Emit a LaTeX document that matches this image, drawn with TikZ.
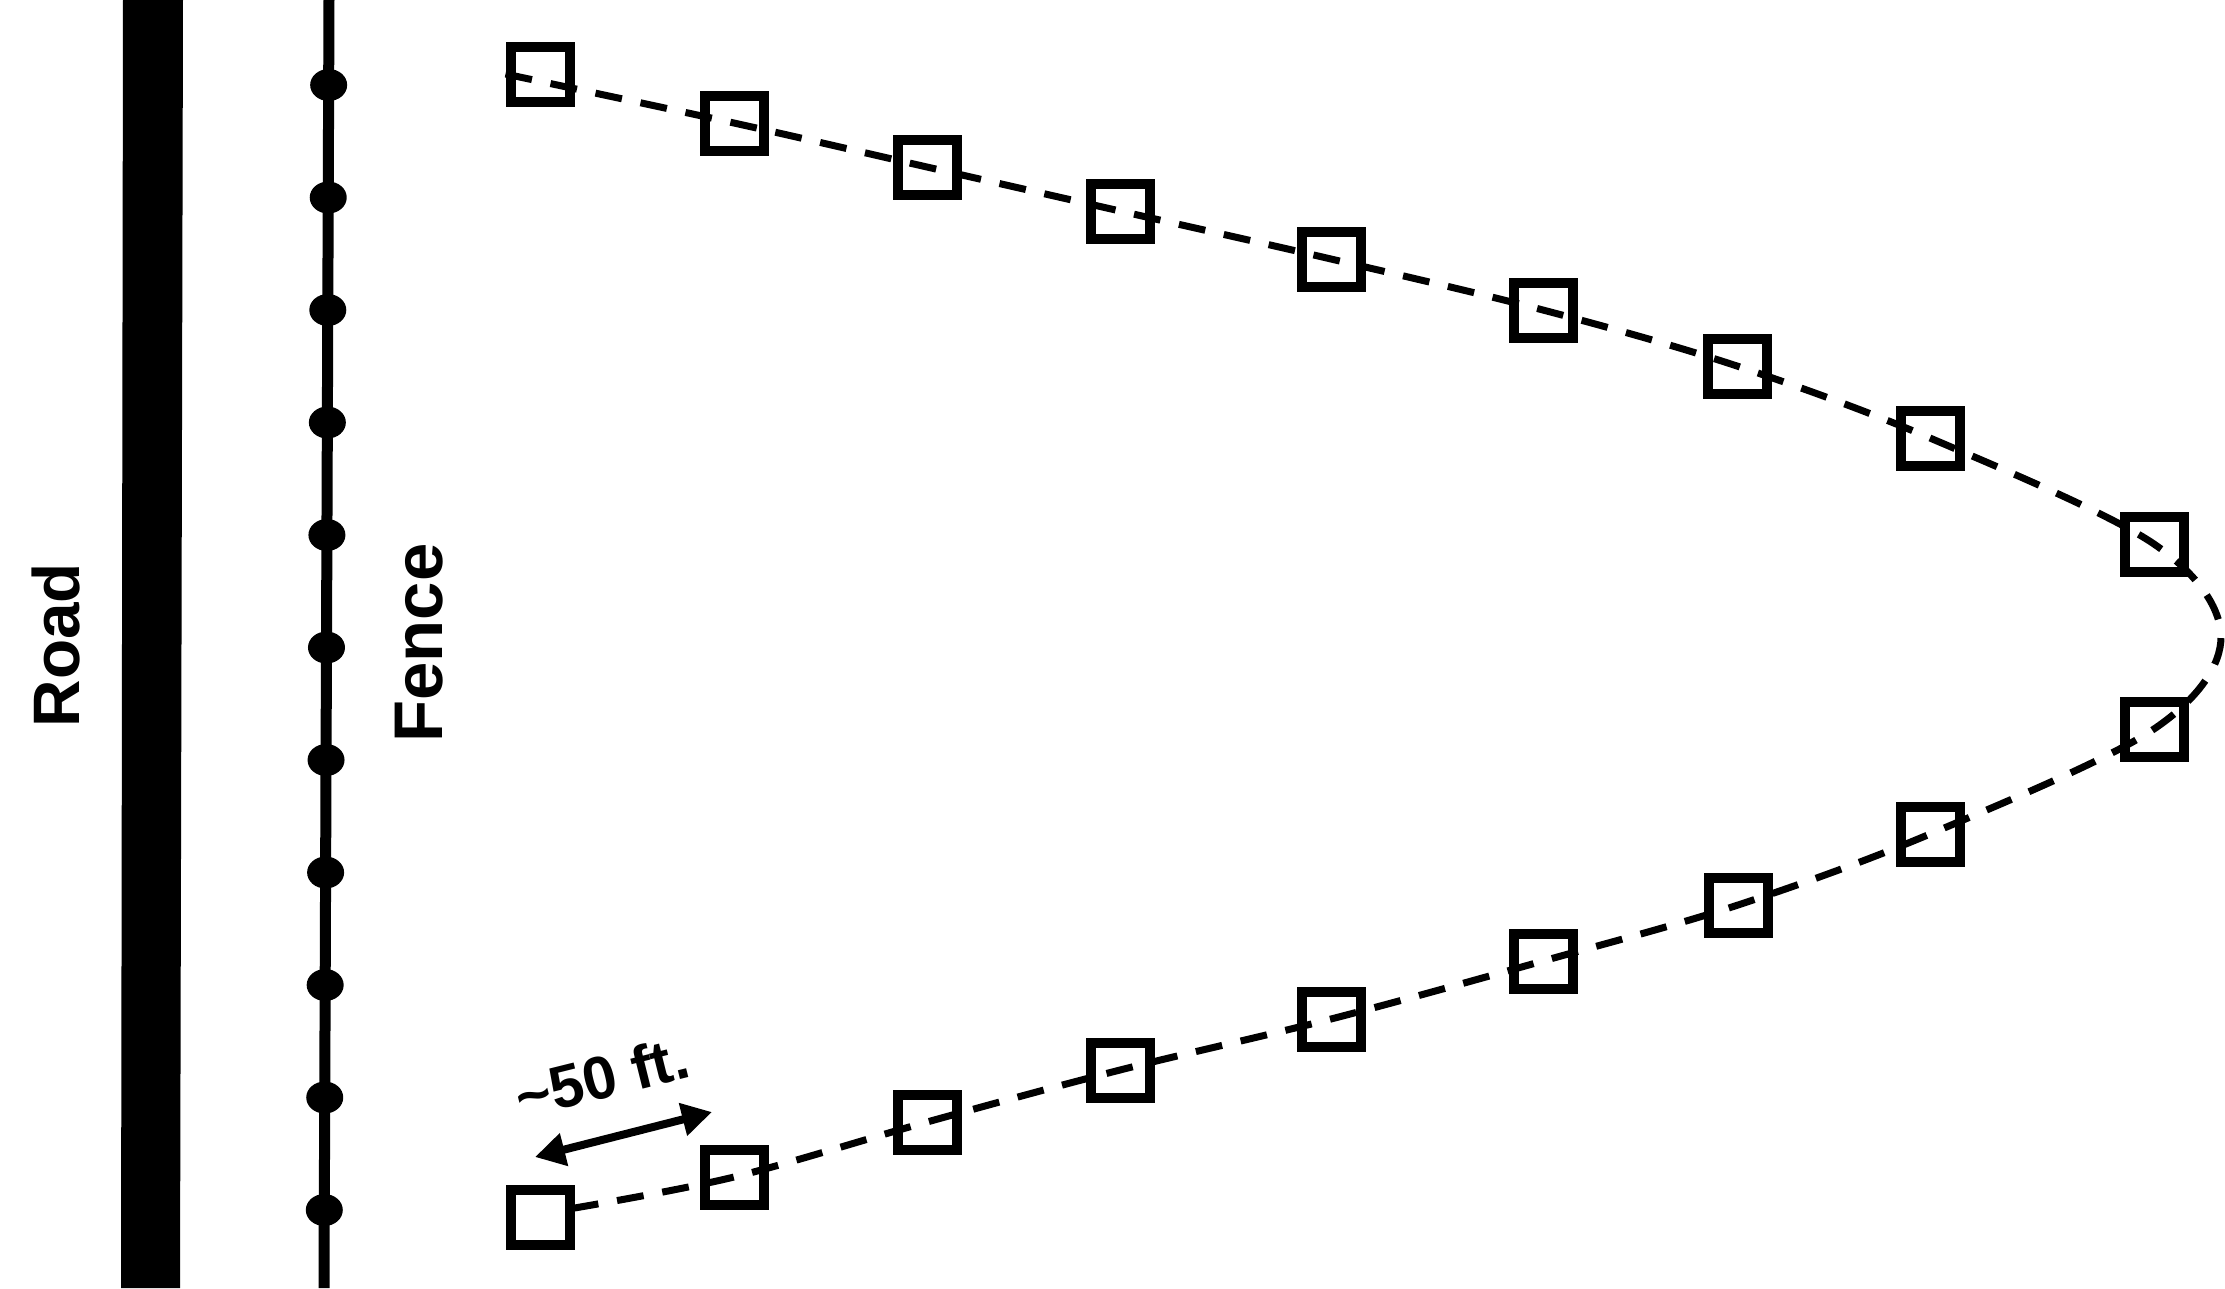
\documentclass[tikz,border=0pt]{standalone}
\usepackage{fontspec}
\setmainfont{Liberation Sans}
\usetikzlibrary{arrows.meta,shapes.geometric}

\begin{document}
\begin{tikzpicture}[x=0.1mm, y=-0.1mm,
    station/.style={draw, rectangle, line width=1mm, minimum width=5.9mm,
        minimum height=5.5mm, inner sep=0pt},
    post/.style={ellipse, fill, minimum width=3.7mm, minimum height=3.2mm, inner sep=0pt},
    trail/.style={line width=0.7mm, dash pattern=on 2.7mm off 1.9mm},
    span/.style={line width=0.8mm, {Triangle[length=3.0mm,width=3.2mm]}-{Triangle[length=3.0mm,width=3.2mm]}},
    tag/.style={font=\bfseries, inner sep=0pt}]
\useasboundingbox (0,0) rectangle (2225,1288);
\clip (0,0) rectangle (2225,1288);
% road and fence
\fill (123,0) -- (183,0) -- (180,1288) -- (121,1288) -- cycle;
\node[tag, rotate=90, font=\bfseries\fontsize{18.7pt}{20pt}\selectfont] (road) at (56,645) {Road};
\coordinate (ftop) at (329,0);
\coordinate (fbot) at (324,1288);
\draw[line width=1.1mm] (ftop) -- (fbot);
\foreach \i in {0,...,10}
    \node[post] (f\i) at ({329-5*(85+112.5*\i)/1288}, {85+112.5*\i}) {};
\node[tag, rotate=90, font=\bfseries\fontsize{19.6pt}{21pt}\selectfont] (fence) at (419,643) {Fence};
% stations
\foreach \n/\x/\y in {1/540/74, 2/734/123, 3/927/167, 4/1120/211, 5/1331/259,
        6/1543/310, 7/1737/366, 8/1930/438, 9/2154/544, 10/2154/729,
        11/1930/834, 12/1738/905, 13/1543/961, 14/1331/1019, 15/1120/1070,
        16/927/1122, 17/734/1177, 18/540/1217}
    \node[station] (s\n) at (\x,\y) {};
\coordinate (apex) at (2221,637);
\draw[trail] plot[smooth, tension=0.55] coordinates {(s1.west) (s2.center)
    (s3.center) (s4.center) (s5.center) (s6.center) (s7.center) (s8.center)
    (s9.center) (apex) (s10.center) (s11.center) (s12.center) (s13.center)
    (s14.center) (s15.center) (s16.center) (s17.center) ([yshift=0.9mm]s18.east)};
% spacing
\coordinate (a1) at (535,1157);
\coordinate (a2) at (712,1112);
\draw[span] (a1) -- (a2);
\node[tag, rotate=14, font=\bfseries\fontsize{17.2pt}{18pt}\selectfont] (dist) at (602,1077) {\textasciitilde50 ft.};
\end{tikzpicture}
\end{document}
